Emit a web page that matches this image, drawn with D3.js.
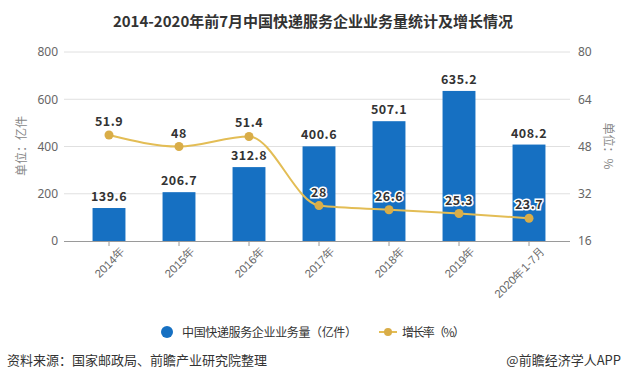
<!DOCTYPE html>
<html><head><meta charset="utf-8">
<script src="https://cdn.jsdelivr.net/npm/d3@7"></script>
<style>
body{margin:0;background:#fff;}
svg{font-family:"Noto Sans CJK SC","Noto Sans",sans-serif;}
</style></head>
<body><svg id="c" width="625" height="382"></svg>
<script>
const categories = ["2014年","2015年","2016年","2017年","2018年","2019年","2020年1-7月"];
const volume = [139.6,206.7,312.8,400.6,507.1,635.2,408.2];
const growth = [51.9,48,51.4,28,26.6,25.3,23.7];
const leftTicks = [0,200,400,600,800];
const rightTicks = [16,32,48,64,80];

const svg = d3.select("#c");
const L = 64, R = 570, T = 52, B = 241;
const x = d3.scaleBand().domain(categories).range([74,564]).paddingInner(0.53).paddingOuter(0.265);
const yL = d3.scaleLinear().domain([0,800]).range([B,T]);
const yR = d3.scaleLinear().domain([16,80]).range([B,T]);
const cx = d => x(d) + x.bandwidth()/2;

svg.append("text").attr("x",313).attr("y",27).attr("text-anchor","middle")
  .attr("font-size",15).attr("font-weight","bold").attr("fill","#333")
  .text("2014-2020年前7月中国快递服务企业业务量统计及增长情况");

// grid
svg.append("g").selectAll("line").data(leftTicks.slice(1)).join("line")
  .attr("x1",L).attr("x2",R).attr("y1",d=>yL(d)).attr("y2",d=>yL(d))
  .attr("stroke","#e0e0e0").attr("stroke-width",1);

// left axis
const gl = svg.append("g").attr("transform",`translate(${L},0)`)
  .call(d3.axisLeft(yL).tickValues(leftTicks).tickSize(0).tickPadding(6));
gl.select(".domain").remove();
gl.selectAll("text").attr("font-size",12).attr("fill","#666").attr("font-family","Noto Sans, sans-serif");

// right axis
const gr = svg.append("g").attr("transform",`translate(${R},0)`)
  .call(d3.axisRight(yR).tickValues(rightTicks).tickSize(0).tickPadding(8));
gr.select(".domain").remove();
gr.selectAll("text").attr("font-size",12).attr("fill","#666").attr("font-family","Noto Sans, sans-serif");

// bars
svg.append("g").selectAll("rect").data(categories).join("rect")
  .attr("x",d=>x(d)).attr("width",x.bandwidth())
  .attr("y",(d,i)=>yL(volume[i])).attr("height",(d,i)=>B-yL(volume[i]))
  .attr("fill","#1670c2");

// x axis
const gx = svg.append("g").attr("transform",`translate(0,${B})`)
  .call(d3.axisBottom(x).tickSize(5).tickSizeOuter(0));
gx.select(".domain").attr("d",`M${L},0.5H${R}`).attr("stroke","#9a9a9a");
gx.selectAll(".tick line").attr("stroke","#9a9a9a");
gx.selectAll("text").attr("font-size",11.5).attr("fill","#666")
  .attr("text-anchor","end").attr("transform","translate(4,-2) rotate(-45)").attr("dy","0.9em").attr("dx","0");

// bar labels
svg.append("g").selectAll("text").data(categories).join("text")
  .attr("x",d=>cx(d)).attr("y",(d,i)=>yL(volume[i])-7)
  .attr("text-anchor","middle").attr("font-size",12.5).attr("font-weight","bold")
  .attr("fill","#333").attr("letter-spacing","0.5")
  .text((d,i)=>volume[i]);

// line
const line = d3.line().x(d=>cx(d.c)).y(d=>yR(d.v)).curve(d3.curveMonotoneX);
const pts = categories.map((c,i)=>({c,v:growth[i]}));
svg.append("path").datum(pts).attr("d",line).attr("fill","none")
  .attr("stroke","#e3bd55").attr("stroke-width",2);
svg.append("g").selectAll("circle").data(pts).join("circle")
  .attr("cx",d=>cx(d.c)).attr("cy",d=>yR(d.v)).attr("r",4.5).attr("fill","#d9ad48");
svg.append("g").selectAll("text").data(pts).join("text")
  .attr("x",d=>cx(d.c)).attr("y",d=>yR(d.v)-9)
  .attr("text-anchor","middle").attr("font-size",12.5).attr("font-weight","bold")
  .attr("fill","#333").attr("stroke","#fff").attr("stroke-width",3).attr("paint-order","stroke")
  .attr("letter-spacing","0.5")
  .text(d=>d.v);

// axis titles
svg.append("text").attr("transform","translate(26,146) rotate(-90)").attr("text-anchor","middle")
  .attr("font-size",12).attr("fill","#888").text("单位：亿件");
svg.append("text").attr("transform","translate(604,146) rotate(90)").attr("text-anchor","middle")
  .attr("font-size",12).attr("fill","#888").text("单位：%");

// legend
svg.append("circle").attr("cx",167).attr("cy",332).attr("r",6).attr("fill","#1670c2");
svg.append("text").attr("x",182).attr("y",336.5).attr("font-size",12).attr("fill","#333")
  .attr("textLength",175).attr("lengthAdjust","spacing").text("中国快递服务企业业务量（亿件）");
svg.append("line").attr("x1",379).attr("x2",397).attr("y1",332).attr("y2",332).attr("stroke","#e3bd55").attr("stroke-width",2);
svg.append("circle").attr("cx",388).attr("cy",332).attr("r",4).attr("fill","#d9ad48");
svg.append("text").attr("x",402).attr("y",336.5).attr("font-size",12).attr("fill","#333")
  .attr("textLength",63).attr("lengthAdjust","spacing").text("增长率（%）");

// footer
svg.append("text").attr("x",7).attr("y",365).attr("font-size",13).attr("fill","#333").text("资料来源：国家邮政局、前瞻产业研究院整理");
svg.append("text").attr("x",621).attr("y",365).attr("text-anchor","end").attr("font-size",13).attr("fill","#333").text("@前瞻经济学人APP");
</script></body></html>
